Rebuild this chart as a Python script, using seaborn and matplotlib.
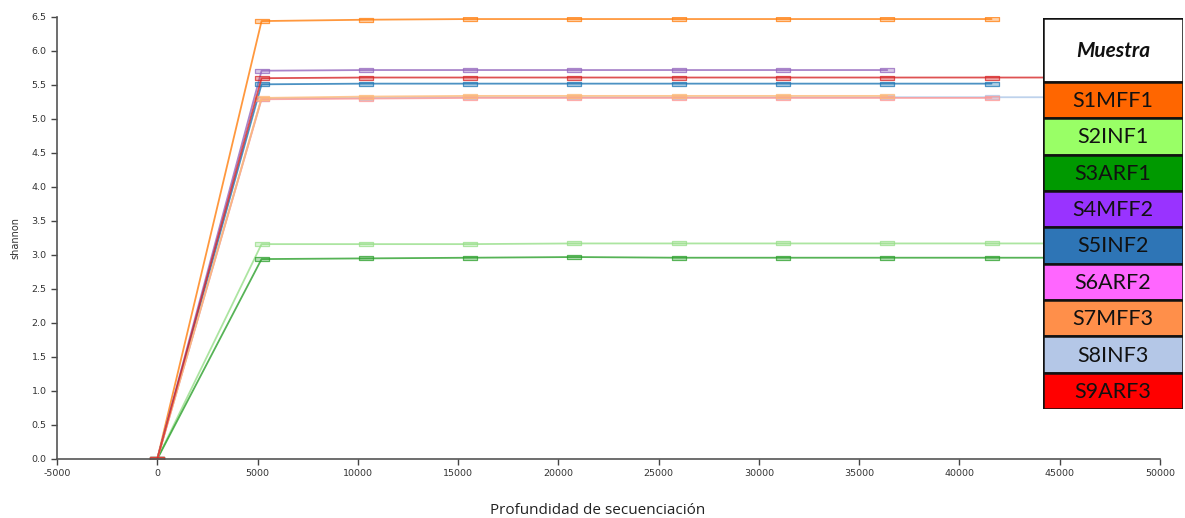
import numpy as np
import pandas as pd
import matplotlib
matplotlib.use("Agg")
import matplotlib.pyplot as plt
from matplotlib.path import Path
from matplotlib.patches import Rectangle
from matplotlib.colors import to_rgba
import seaborn as sns

# Rarefaction depths (sequences per sample)
depths = [0, 5200, 10400, 15600, 20800, 26000, 31200, 36400, 41600, 46800]

samples = ["S1MFF1", "S2INF1", "S3ARF1", "S4MFF2", "S5INF2",
           "S6ARF2", "S7MFF3", "S8INF3", "S9ARF3"]

# Shannon index at each depth (series stop at each sample's own depth)
s1mff1 = [0, 6.44, 6.46, 6.47, 6.47, 6.47, 6.47, 6.47, 6.47]
s2inf1 = [0, 3.16, 3.16, 3.16, 3.17, 3.17, 3.17, 3.17, 3.17, 3.17]
s3arf1 = [0, 2.94, 2.95, 2.96, 2.97, 2.96, 2.96, 2.96, 2.96, 2.96]
s4mff2 = [0, 5.71, 5.72, 5.72, 5.72, 5.72, 5.72, 5.72]
s5inf2 = [0, 5.51, 5.52, 5.52, 5.52, 5.52, 5.52, 5.52, 5.52]
s6arf2 = [0, 5.29, 5.30, 5.31, 5.31, 5.31, 5.31, 5.31, 5.31]
s7mff3 = [0, 5.31, 5.33, 5.34, 5.34, 5.34, 5.34, 5.34]
s8inf3 = [0, 5.30, 5.31, 5.32, 5.32, 5.32, 5.32, 5.32, 5.32, 5.32]
s9arf3 = [0, 5.60, 5.61, 5.61, 5.61, 5.61, 5.61, 5.61, 5.61, 5.61]

series = [s1mff1, s2inf1, s3arf1, s4mff2, s5inf2, s6arf2, s7mff3, s8inf3, s9arf3]

line_colors = ["#ff7f0e", "#98df8a", "#2ca02c", "#9467bd", "#1f77b4",
               "#ff9896", "#ffbb78", "#aec7e8", "#d62728"]
legend_colors = ["#FF6600", "#99FF66", "#009900", "#9933FF", "#2E75B6",
                 "#FF66FF", "#FF8F4A", "#B4C7E7", "#FF0000"]

x_ticks = list(range(-5000, 50001, 5000))
y_ticks = [round(v * 0.5, 1) for v in range(0, 14)]

rows = []
for name, vals in zip(samples, series):
    for d, v in zip(depths, vals):
        rows.append({"depth": d, "shannon": v, "sample": name})
df = pd.DataFrame(rows)

sns.set_style("ticks")
plt.rcParams["font.family"] = ["DejaVu Sans"]

W, H = 1185, 518
fig = plt.figure(figsize=(W / 100, H / 100), dpi=100)
ax = fig.add_axes([57 / W, 1 - 459 / H, (1160 - 57) / W, (459 - 17) / H])

# Small flat rectangle marker
box = Path([(-1.3, -0.42), (1.3, -0.42), (1.3, 0.42), (-1.3, 0.42), (-1.3, -0.42)],
           [Path.MOVETO, Path.LINETO, Path.LINETO, Path.LINETO, Path.CLOSEPOLY])

sns.lineplot(data=df, x="depth", y="shannon", hue="sample", hue_order=samples,
             palette=line_colors, ax=ax, legend=False, linewidth=1.3,
             marker=box, markersize=10, markeredgewidth=0.9, sort=False,
             estimator=None)

# Soften lines and markers; keep the pale blue curve underneath the others
for name, line, col in zip(samples, ax.get_lines(), line_colors):
    line.set_color(to_rgba(col, 0.8))
    line.set_markerfacecolor(to_rgba(col, 0.35))
    line.set_markeredgecolor(to_rgba(col, 0.75))
    line.set_zorder(1.5 if name == "S8INF3" else 2.5)

ax.set_xlim(-5000, 50000)
ax.set_ylim(0, 6.5)
ax.set_xticks(x_ticks)
ax.set_xticklabels([str(t) for t in x_ticks])
ax.set_yticks(y_ticks)
ax.set_yticklabels([f"{t:.1f}" for t in y_ticks])
ax.tick_params(axis="both", labelsize=6.8, colors="#444444", length=4, width=1)
for lab in ax.get_xticklabels() + ax.get_yticklabels():
    lab.set_color("#333333")
sns.despine(ax=ax)
for sp in ("left", "bottom"):
    ax.spines[sp].set_color("#555555")
    ax.spines[sp].set_linewidth(1.2)
ax.set_xlabel("")
ax.set_ylabel("shannon", fontsize=7, color="#333333", labelpad=8)

fig.text(598 / W, 1 - 510 / H, "Profundidad de secuenciación", ha="center",
         va="center", fontsize=11, color="#222222", family=["Open Sans", "DejaVu Sans"])

# Sample key drawn as a table on the right
lax = fig.add_axes([1043 / W, 1 - 409 / H, (1183 - 1043) / W, (409 - 18) / H])
lax.set_xlim(0, 1)
lax.set_ylim(409, 18)
lax.axis("off")
header_bottom = 82
row_h = (409 - header_bottom) / len(samples)
lax.add_patch(Rectangle((0, 18), 1, header_bottom - 18, facecolor="white",
                        edgecolor="#111111", linewidth=1.8))
lax.text(0.5, (18 + header_bottom) / 2 + 1, "Muestra", ha="center", va="center",
         fontsize=15, fontweight="bold", fontstyle="italic", color="#111111",
         family=["Lato", "DejaVu Sans"])
for i, (name, col) in enumerate(zip(samples, legend_colors)):
    top = header_bottom + i * row_h
    lax.add_patch(Rectangle((0, top), 1, row_h, facecolor=col,
                            edgecolor="#111111", linewidth=1.8))
    lax.text(0.5, top + row_h / 2 + 1, name, ha="center", va="center",
             fontsize=15.5, color="#111111", family=["Lato", "DejaVu Sans"])

fig.savefig("out.png", dpi=100)
